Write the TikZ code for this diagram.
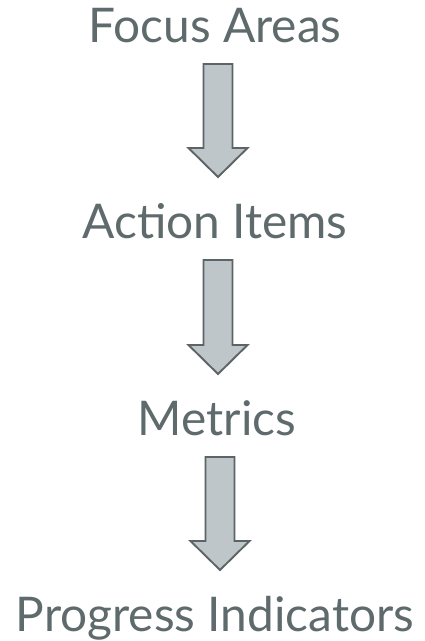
\documentclass[tikz,border=0pt]{standalone}
\usepackage{fontspec}
\setmainfont{Lato}
\usepackage{tikz}
\usetikzlibrary{calc,positioning}
\definecolor{stepText}{RGB}{94,106,108}
\definecolor{arrowFill}{RGB}{190,198,201}
\definecolor{arrowEdge}{RGB}{92,100,102}

\tikzset{
    stage/.style={text=stepText, font=\fontsize{47.8}{57}\selectfont, inner sep=0pt, anchor=base},
    flowarrow/.style={fill=arrowFill, draw=arrowEdge, line width=1.9pt, line join=miter}
}

\begin{document}
\begin{tikzpicture}
    \useasboundingbox (0,0) rectangle (425pt,-641pt);

    % stage labels, one baseline every 196pt
    \node[stage] (focus)    at (215pt,-42pt)  {Focus Areas};
    \node[stage] (action)   at (215pt,-238pt) {Action Items};
    \node[stage] (metrics)  at (217pt,-435pt) {Metrics};
    \node[stage] (progress) at (215pt,-631pt) {Progress Indicators};

    % block arrows between consecutive stages
    \foreach \a/\b in {focus/action, action/metrics, metrics/progress}
        \draw[flowarrow]
            let \p1 = ($(\a.base)+(3pt,-22pt)$),
                \p2 = ($(\b.base)+(3pt,61pt)$)
            in (\x1-14.5pt,\y1) -- (\x1+14.5pt,\y1) -- (\x1+14.5pt,\y2+29pt)
               -- (\x1+29.5pt,\y2+29pt) -- (\x1,\y2) -- (\x1-29.5pt,\y2+29pt)
               -- (\x1-14.5pt,\y2+29pt) -- cycle;
\end{tikzpicture}
\end{document}
